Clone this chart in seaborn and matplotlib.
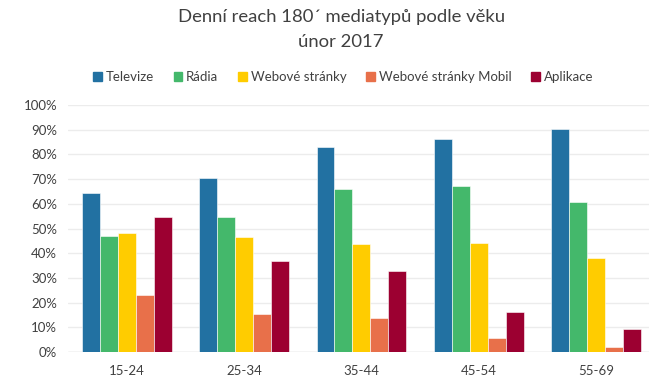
import pandas as pd
import seaborn as sns
import matplotlib.pyplot as plt
from matplotlib.ticker import FuncFormatter

# data (percent)
ages = ["15-24", "25-34", "35-44", "45-54", "55-69"]
series = ["Televize", "Rádia", "Webové stránky", "Webové stránky Mobil", "Aplikace"]
televize = [64.4, 70.4, 83.1, 86.2, 90.4]
radia = [47.0, 54.8, 66.2, 67.2, 60.7]
web = [48.1, 46.7, 43.9, 44.2, 38.0]
web_mobil = [23.1, 15.3, 13.8, 5.5, 2.2]
aplikace = [54.5, 36.7, 32.8, 16.2, 9.5]
colors = ["#2271a2", "#44b86b", "#ffcc00", "#e8704a", "#9c0031"]

values = [televize, radia, web, web_mobil, aplikace]
rows = []
for name, vals in zip(series, values):
    for age, v in zip(ages, vals):
        rows.append({"vek": age, "typ": name, "reach": v})
df = pd.DataFrame(rows)

sns.set_theme(style="white")
plt.rcParams["font.family"] = ["Lato", "DejaVu Sans"]

fig = plt.figure(figsize=(6.5, 3.84), dpi=100)
ax = fig.add_axes([0.105, 0.0833, 0.893, 0.6432])

sns.barplot(data=df, x="vek", y="reach", hue="typ", hue_order=series,
            palette=colors, width=0.765, gap=0, saturation=1,
            edgecolor="white", linewidth=0.4, legend=False, ax=ax)

ax.set_ylim(0, 100)
ax.set_xlim(-0.5, 4.45)
ax.set_yticks(range(0, 101, 10))
ax.yaxis.set_major_formatter(FuncFormatter(lambda v, p: f"{v:.0f}%"))
ax.grid(axis="y", color="#ececec", linewidth=1)
ax.set_axisbelow(True)
for s in ax.spines.values():
    s.set_visible(False)
ax.axhline(0, color="#d9d9d9", linewidth=1, zorder=0)
ax.tick_params(axis="both", length=0, labelsize=9.5, labelcolor="#404040")
ax.tick_params(axis="x", pad=9)
ax.tick_params(axis="y", pad=8)
ax.set_xlabel("")
ax.set_ylabel("")

fig.text(0.525, 0.955, "Denní reach 180´ mediatypů podle věku", ha="center",
         va="center", fontsize=13.3, color="#404040")
fig.text(0.525, 0.89, "únor 2017", ha="center", va="center",
         fontsize=13.3, color="#404040")

handles = [plt.Rectangle((0, 0), 1, 1, color=c) for c in colors]
fig.legend(handles, series, loc="center", bbox_to_anchor=(0.528, 0.8),
           ncol=5, frameon=False, fontsize=9.5, handlelength=0.65,
           handleheight=0.65, handletextpad=0.3, columnspacing=1.5,
           labelcolor="#404040")

fig.savefig("out.png", dpi=100)
